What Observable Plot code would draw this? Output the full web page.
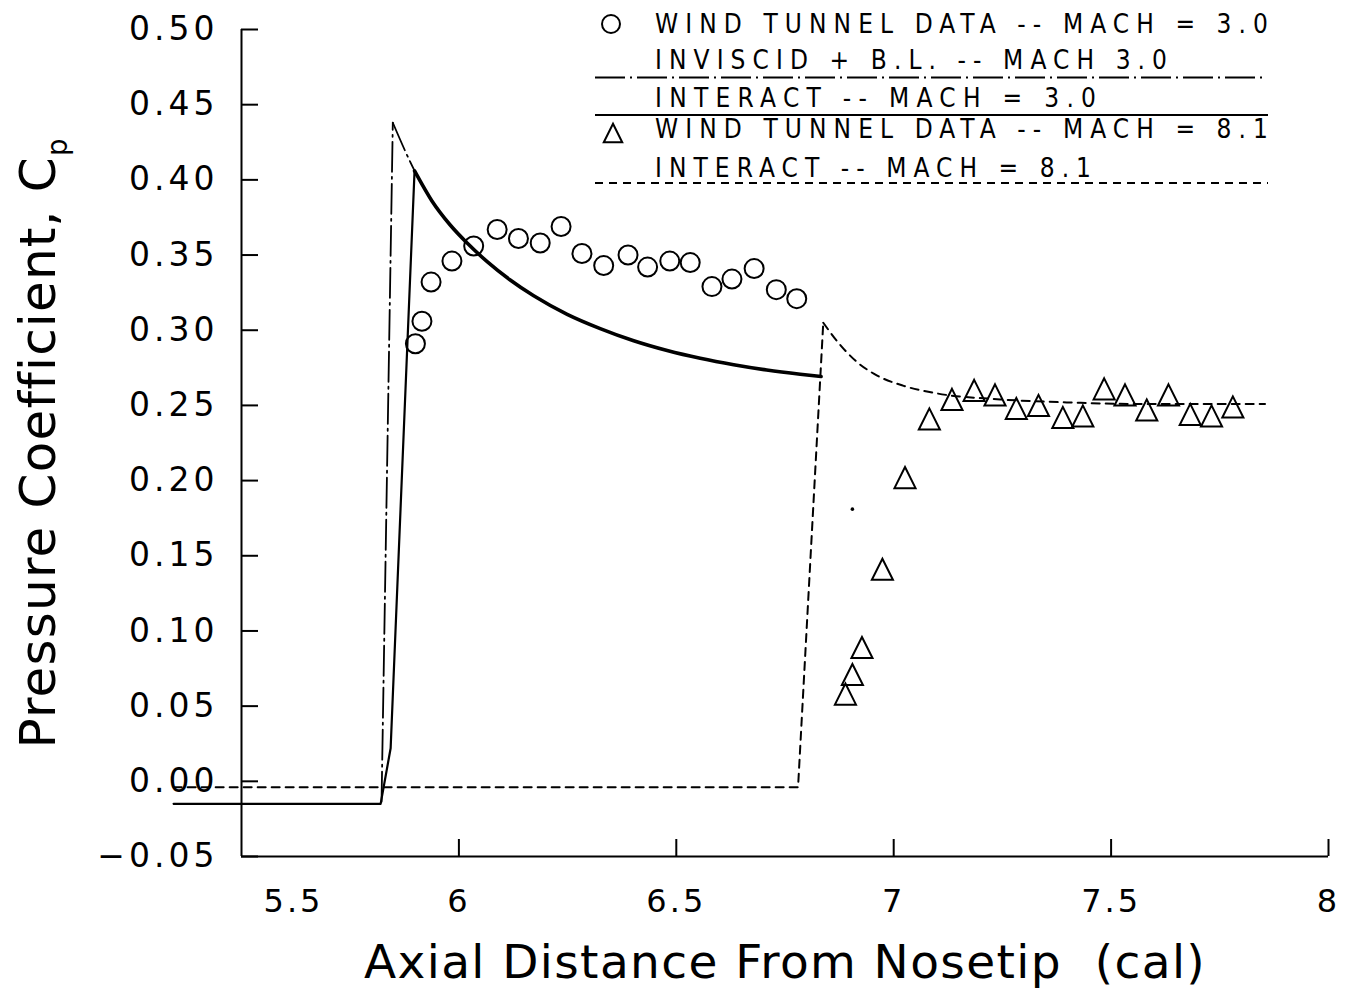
<!DOCTYPE html>
<html><head><meta charset="utf-8">
<script src="https://cdn.jsdelivr.net/npm/d3@7"></script>
<script src="https://cdn.jsdelivr.net/npm/@observablehq/plot@0.6"></script>
<style>
html,body{margin:0;padding:0;background:#fff;}
svg text{font-family:"DejaVu Sans",sans-serif;}
</style></head><body><div id="chart"></div>
<script>
// ---- Data ----
const xTicks = [6, 6.5, 7, 7.5, 8];
const xFirstTick = [5.5];
const yTicks = [-0.05, 0, 0.05, 0.10, 0.15, 0.20, 0.25, 0.30, 0.35, 0.40, 0.45, 0.50];

// Wind tunnel data, Mach 3.0 (circles)
const c3X = [5.900,5.915,5.936,5.984,6.034,6.088,6.137,6.187,6.235,6.283,6.333,6.389,6.434,6.485,6.532,6.582,6.628,6.679,6.730,6.777];
const c3Y = [0.291,0.306,0.332,0.346,0.356,0.367,0.361,0.358,0.369,0.351,0.343,0.350,0.342,0.346,0.345,0.329,0.334,0.341,0.327,0.321];

// Wind tunnel data, Mach 8.1 (triangles)
const t8X = [6.889,6.905,6.927,6.974,7.026,7.082,7.134,7.185,7.233,7.282,7.333,7.389,7.435,7.484,7.532,7.582,7.632,7.682,7.731,7.780];
const t8Y = [0.058,0.071,0.089,0.141,0.202,0.241,0.254,0.260,0.257,0.248,0.250,0.242,0.243,0.261,0.257,0.247,0.257,0.244,0.243,0.249];

// Inviscid + B.L., Mach 3.0 (dash-dot); peak at index 2
const invX = [5.344,5.822,5.848,5.900,5.938,5.980,6.019,6.065,6.118,6.172,6.249,6.325,6.402,6.479,6.555,6.632,6.708,6.785,6.833];
const invY = [-0.015,-0.015,0.438,0.405,0.386,0.370,0.358,0.3456,0.3334,0.3229,0.3106,0.3011,0.2930,0.2865,0.2813,0.2770,0.2735,0.2707,0.2692];

// INTERACT, Mach 3.0 (solid); peak at index 3
const i3X = [5.344,5.820,5.843,5.898,5.938,5.980,6.019,6.065,6.118,6.172,6.249,6.325,6.402,6.479,6.555,6.632,6.708,6.785,6.833];
const i3Y = [-0.015,-0.015,0.022,0.406,0.386,0.370,0.358,0.3456,0.3334,0.3229,0.3106,0.3011,0.2930,0.2865,0.2813,0.2770,0.2735,0.2707,0.2692];

// INTERACT, Mach 8.1 (dashed); peak at index 2
const i8X = [5.344,6.780,6.838,6.869,6.915,6.961,7.023,7.099,7.245,7.398,7.551,7.700,7.854];
const i8Y = [-0.004,-0.004,0.305,0.293,0.279,0.270,0.263,0.258,0.254,0.252,0.251,0.251,0.251];

// stray plotted dot
const strayX = [6.905];
const strayY = [0.181];

const legendLabels = [
  "WIND TUNNEL DATA -- MACH = 3.0",
  "INVISCID + B.L. -- MACH 3.0",
  "INTERACT -- MACH = 3.0",
  "WIND TUNNEL DATA -- MACH = 8.1",
  "INTERACT -- MACH = 8.1"
];
const xTitle = "Axial Distance From Nosetip\u00a0 (cal)";
const yTitle = "Pressure Coefficient, C";
const ySub = "p";

// ---- Tables ----
const zip = (X, Y) => X.map((x, i) => ({x, y: Y[i]}));
const circles = zip(c3X, c3Y);
const triangles = zip(t8X, t8Y);
const inviscid = zip(invX, invY);
const interact3 = zip(i3X, i3Y);
const interact8 = zip(i8X, i8Y);
const stray = zip(strayX, strayY);

const triSymbol = {draw(ctx, size) {
  const h = Math.sqrt(size) * 1.19;
  ctx.moveTo(0, -h / 2); ctx.lineTo(h / 2, h / 2); ctx.lineTo(-h / 2, h / 2); ctx.closePath();
}};

const fmtY = d3.format(".2f");

// straight jump segments up to the peak, smooth decay after it
const jumpThenDecay = (data, peak, opts, decayOpts = {}) => [
  Plot.line(data.slice(0, peak + 1), {x: "x", y: "y", stroke: "black", ...opts}),
  Plot.line(data.slice(peak), {x: "x", y: "y", stroke: "black", curve: "monotone-x", ...opts, ...decayOpts})
];

const svg = Plot.plot({
  width: 1349, height: 988,
  marginLeft: 241, marginRight: 21, marginTop: 29, marginBottom: 132,
  x: {domain: [5.5, 8]},
  y: {domain: [-0.05, 0.5]},
  style: {fontFamily: "DejaVu Sans", background: "white", color: "black"},
  marks: [
    Plot.ruleX([5.5], {stroke: "black", strokeWidth: 2}),
    Plot.ruleY([-0.05], {stroke: "black", strokeWidth: 2}),
    Plot.axisY(yTicks, {tickSize: -17, tickPadding: 40, tickFormat: fmtY, fontSize: 33, strokeWidth: 2, label: null}),
    Plot.axisX(xTicks, {tickSize: -17, tickPadding: 50, tickFormat: d => String(d), fontSize: 32, strokeWidth: 2, label: null}),
    Plot.axisX(xFirstTick, {tickSize: 0, tickPadding: 33, dx: 52, tickFormat: d => String(d), fontSize: 32, label: null}),
    ...jumpThenDecay(interact8, 2, {strokeWidth: 2, strokeDasharray: "8,6"}),
    ...jumpThenDecay(inviscid, 2, {strokeWidth: 1.8, strokeDasharray: "30,5,2,5"}),
    ...jumpThenDecay(interact3, 3, {strokeWidth: 2.2}, {strokeWidth: 3.6}),
    Plot.dot(circles, {x: "x", y: "y", r: 9.5, stroke: "black", strokeWidth: 2, fill: "none"}),
    Plot.dot(triangles, {x: "x", y: "y", r: 10, symbol: triSymbol, stroke: "black", strokeWidth: 2, fill: "none"}),
    Plot.dot(stray, {x: "x", y: "y", r: 1.8, fill: "black", stroke: null}),
    Plot.text([xTitle], {frameAnchor: "bottom", dy: 106, fontSize: 47, textAnchor: "middle", lineAnchor: "middle", fill: "black"}),
    Plot.text([yTitle], {frameAnchor: "left", dx: -203, rotate: -90, fontSize: 50, textAnchor: "middle", lineAnchor: "middle", fill: "black"})
  ]
});

const s = d3.select(svg);
s.selectAll('g[aria-label="y-axis tick label"] text').style("letter-spacing", "4px");
s.selectAll('g[aria-label="x-axis tick label"] text').style("letter-spacing", "3px");
s.selectAll("text").filter(function() { return this.textContent === xTitle; }).style("letter-spacing", "1.4px");
s.selectAll("text").filter(function() { return this.textContent === yTitle; })
  .style("letter-spacing", "1.2px")
  .append("tspan").attr("font-size", "0.55em").attr("dy", "0.45em").text(ySub);

// ---- Legend ----
const lg = s.append("g").attr("aria-label", "legend").attr("text-anchor", "start");
lg.append("circle").attr("cx", 611).attr("cy", 24).attr("r", 9)
  .attr("fill", "none").attr("stroke", "black").attr("stroke-width", 2);
lg.append("path").attr("d", d3.symbol(triSymbol, 240)()).attr("transform", "translate(613,133)")
  .attr("fill", "none").attr("stroke", "black").attr("stroke-width", 2);
const legLines = [
  {y: 77.5, x2: 1262, dash: "30,5,2,5", w: 1.8},
  {y: 115, x2: 1268, dash: null, w: 2},
  {y: 183, x2: 1268, dash: "8,6", w: 2}
];
legLines.forEach(l => {
  lg.append("line").attr("x1", 595).attr("x2", l.x2).attr("y1", l.y).attr("y2", l.y)
    .attr("stroke", "black").attr("stroke-width", l.w).attr("stroke-dasharray", l.dash);
});
const legBase = [33, 69, 107, 138, 177];
const legWidth = [613, 512, 441, 613, 436];
legendLabels.forEach((t, i) => {
  lg.append("text").attr("x", 655).attr("y", legBase[i])
    .attr("text-anchor", "start")
    .attr("textLength", legWidth[i]).attr("lengthAdjust", "spacing")
    .attr("font-size", 26).attr("fill", "black")
    .style("font-family", '"Liberation Sans Narrow","DejaVu Sans Condensed","Liberation Sans",sans-serif')
    .text(t);
});

document.getElementById("chart").appendChild(svg);
</script></body></html>
